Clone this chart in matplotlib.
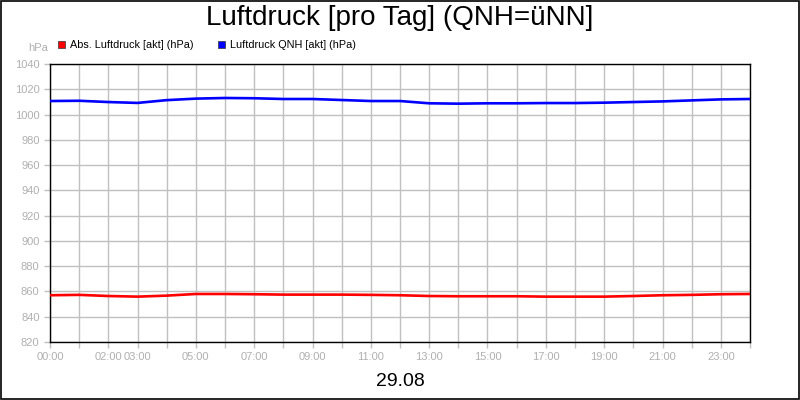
import numpy as np
import matplotlib
matplotlib.use("Agg")
import matplotlib.pyplot as plt
from matplotlib.patches import Rectangle

plt.rcParams["font.family"] = ["Liberation Sans", "DejaVu Sans"]

# hourly readings 00:00 .. 24:00
hours = list(range(25))
qnh = [1010.7, 1010.9, 1009.9, 1009.2, 1011.4, 1012.6, 1013.1, 1012.9, 1012.3, 1012.3,
       1011.5, 1010.7, 1010.7, 1008.9, 1008.6, 1008.9, 1008.9, 1009.1, 1009.1, 1009.4,
       1009.9, 1010.4, 1011.2, 1012.0, 1012.3]
abs_p = [857.0, 857.3, 856.4, 855.9, 856.7, 858.0, 858.0, 857.8, 857.5, 857.5,
         857.5, 857.3, 857.0, 856.4, 856.2, 856.2, 856.2, 855.9, 855.9, 855.9,
         856.4, 857.0, 857.3, 857.8, 858.0]

label_hours = [0, 2, 3, 5, 7, 9, 11, 13, 15, 17, 19, 21, 23]
yticks = list(range(820, 1041, 20))

title = "Luftdruck [pro Tag] (QNH=üNN]"
date_label = "29.08"
series_names = ["Abs. Luftdruck [akt] (hPa)", "Luftdruck QNH [akt] (hPa)"]
series_colors = ["#ff0000", "#0000ff"]

fig = plt.figure(figsize=(8, 4), dpi=100)
ax = fig.add_axes([50 / 800, 58 / 400, 700 / 800, 278 / 400])

ax.plot(hours, abs_p, color=series_colors[0], lw=1.9, zorder=3)
ax.plot(hours, qnh, color=series_colors[1], lw=1.9, zorder=3)

ax.set_xlim(0, 24)
ax.set_ylim(820, 1040)
ax.set_yticks(yticks)
ax.set_xticks(hours)
ax.set_xticklabels(["%02d:00" % h if h in label_hours else "" for h in hours])
ax.grid(True, color="#c0c0c0", lw=1)
ax.set_axisbelow(True)
ax.tick_params(colors="#c0c0c0", labelcolor="#b0b0b0", labelsize=8, length=4, width=1)
for s in ax.spines.values():
    s.set_color("black")
    s.set_linewidth(1)

fig.text(0.5, 1 - 18 / 400, title, ha="center", va="center", fontsize=20)
fig.text(0.5, 1 - 381 / 400, date_label, ha="center", va="center", fontsize=14)
fig.text(48 / 800, 1 - 48 / 400, "hPa", ha="right", va="center", fontsize=8, color="#b0b0b0")

# legend
leg_x = [58, 218]
for x0, name, c in zip(leg_x, series_names, series_colors):
    fig.patches.append(Rectangle((x0 / 800, 1 - 48 / 400), 7 / 800, 7 / 400,
                                 transform=fig.transFigure, facecolor=c,
                                 edgecolor="#333333", lw=0.5))
    fig.text((x0 + 12) / 800, 1 - 44.5 / 400, name, ha="left", va="center", fontsize=7.8)

# outer frame
fig.patches.append(Rectangle((0.001, 0.002), 0.998, 0.996, transform=fig.transFigure,
                             fill=False, edgecolor="black", lw=1.2))

fig.savefig("out.png", dpi=100)
